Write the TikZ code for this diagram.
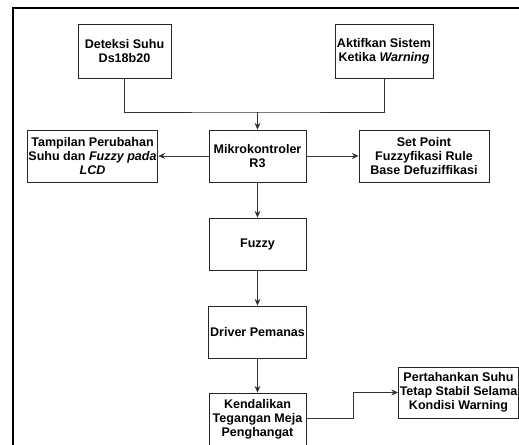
\documentclass[tikz,border=0pt]{standalone}
\usepackage{fontspec}
\setmainfont{Liberation Sans}
\usetikzlibrary{arrows.meta}

\begin{document}
\begin{tikzpicture}[x=0.75pt, y=-0.75pt,
  kotak/.style={draw=black!85, line width=0.65pt, align=center, inner sep=1pt,
    font=\fontsize{9.4}{10.5}\selectfont\bfseries},
  panah/.style={draw=black!80, line width=0.65pt, -{Stealth[length=5pt,width=4.5pt]}},
  garis/.style={draw=black!80, line width=0.65pt}]

% Batas gambar
\useasboundingbox (0,0) rectangle (519,445);

% Bingkai
\draw[line width=1.5pt] (13,445) -- (13,8) -- (519,8);

% Masukan
\node[kotak, minimum width=93*0.75pt, minimum height=54*0.75pt] (deteksi) at (124.5,51) {Deteksi Suhu\\Ds18b20};
\node[kotak, minimum width=98*0.75pt, minimum height=54*0.75pt] (aktifkan) at (384,51) {Aktifkan Sistem\\Ketika \textit{Warning}};

% Baris tengah
\node[kotak, minimum width=97*0.75pt, minimum height=52*0.75pt] (mikro) at (257.5,156) {Mikrokontroler\\R3};
\node[kotak, minimum width=129*0.75pt, minimum height=52*0.75pt] (tampilan) at (92.5,156) {Tampilan Perubahan\\Suhu dan \textit{Fuzzy pada}\\\textit{LCD}};
\node[kotak, minimum width=130*0.75pt, minimum height=52*0.75pt] (setpoint) at (424,156) {Set Point\\Fuzzyfikasi Rule\\Base Defuziffikasi};

% Alur ke bawah
\node[kotak, minimum width=97*0.75pt, minimum height=52*0.75pt] (fuzzy) at (257.5,244) {Fuzzy};
\node[kotak, minimum width=97*0.75pt, minimum height=52*0.75pt] (driver) at (257.5,332) {Driver Pemanas};
\node[kotak, minimum width=97*0.75pt, minimum height=52*0.75pt] (kendali) at (257.5,419) {Kendalikan\\Tegangan Meja\\Penghangat};
\node[kotak, minimum width=117*0.75pt, minimum height=51*0.75pt] (pertahankan) at (458.5,392.5) {Pertahankan Suhu\\Tetap Stabil Selama\\Kondisi Warning};

% Penghubung
\coordinate (gabung) at (mikro.north |- 0,112);
\draw[garis] (deteksi.south) |- (gabung) -| (aktifkan.south);
\draw[panah] (gabung) -- (mikro.north);
\draw[panah] (mikro.west) -- (tampilan.east);
\draw[panah] (mikro.east) -- (setpoint.west);
\draw[panah] (mikro.south) -- (fuzzy.north);
\draw[panah] (fuzzy.south) -- (driver.north);
\draw[panah] (driver.south) -- (kendali.north);
\coordinate (belok) at (353,418);
\draw[panah] (kendali.east |- belok) -- (belok) |- (pertahankan.west);

\end{tikzpicture}
\end{document}
